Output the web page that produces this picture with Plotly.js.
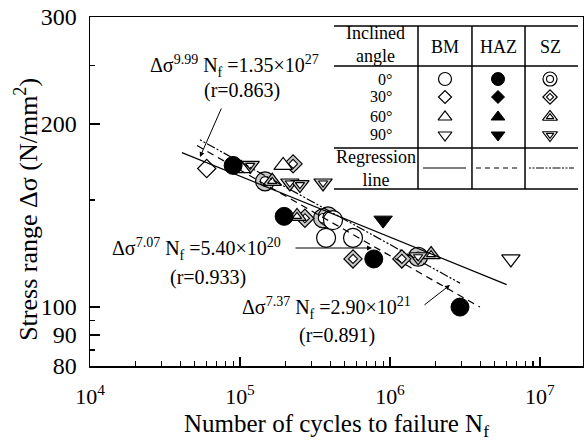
<!DOCTYPE html>
<html>
<head>
<meta charset="utf-8">
<script src="https://cdn.plot.ly/plotly-3.0.1.min.js"></script>
<style>html,body{margin:0;padding:0;background:#fff;}#chart{width:584px;height:441px;}</style>
</head>
<body>
<div id="chart"></div>
<script>
// ---- Data (N = cycles to failure, S = stress range N/mm^2) ----
// BM (open symbols)
const bm0N = [3.75e5, 4.17e5, 5.67e5];  const bm0S = [130, 139, 130];
const bm30N = [6.0e4];                  const bm30S = [169];
const bm60N = [1.02e5, 1.94e5];         const bm60S = [169, 171];
const bm90N = [6.4e6];                  const bm90S = [120];
// HAZ (filled symbols)
const haz0N = [9.0e4, 1.97e5, 7.8e5, 2.93e6]; const haz0S = [171, 141, 120, 100];
const haz90N = [9.0e5];                      const haz90S = [139];
// SZ (double symbols)
const sz0N = [1.47e5, 3.58e5, 3.86e5, 1.54e6];  const sz0S = [161, 140, 141, 121];
const sz30N = [2.26e5, 2.71e5, 5.67e5, 1.2e6];  const sz30S = [172, 140, 120, 120];
const sz60N = [1.64e5, 2.40e5, 1.88e6];         const sz60S = [161, 141, 122];
const sz90N = [1.17e5, 2.15e5, 2.51e5, 3.58e5, 1.54e6]; const sz90S = [171, 160, 159, 160, 121];
// Regression lines (end points)
const bmLineN = [4.1e4, 6.0e6];   const bmLineS = [179.5, 108.9];
const hazLineN = [5.17e4, 3.98e6]; const hazLineS = [184.4, 100.0];
const szLineN = [5.41e4, 2.93e6];  const szLineS = [188.4, 109.5];
// Axis ticks
const xTickVals = [1e4, 1e5, 1e6, 1e7];
const xTickText = ['10<sup>4</sup>', '10<sup>5</sup>', '10<sup>6</sup>', '10<sup>7</sup>'];
const yTickVals = [80, 90, 100, 200, 300];
const yTickText = ['80', '90', '100', '200', '300'];
const yMinorVals = [85, 95, 150, 250];
const xMinorVals = [];
for (const dec of [1e4, 1e5, 1e6, 1e7]) for (let d = 2; d <= 9; d++) if (d*dec < 1.9e7) xMinorVals.push(d*dec);

// Legend table categories
const angles = ['0°', '30°', '60°', '90°'];
const zones = ['BM', 'HAZ', 'SZ'];

const FONT = 'Liberation Serif, Times New Roman, serif';
const K = '#000';

function openTrace(x, y, sym, size, xa, ya) {
  return {x, y, type: 'scatter', mode: 'markers', xaxis: xa||'x', yaxis: ya||'y', hoverinfo: 'skip',
    marker: {symbol: sym, size, color: '#fff', line: {color: K, width: 1.2}}};
}
function fillTrace(x, y, sym, size, xa, ya) {
  return {x, y, type: 'scatter', mode: 'markers', xaxis: xa||'x', yaxis: ya||'y', hoverinfo: 'skip',
    marker: {symbol: sym, size, color: K, line: {color: K, width: 1}}};
}
function szTraces(x, y, sym, size, fill, xa, ya) {
  return [
    {x, y, type: 'scatter', mode: 'markers', xaxis: xa||'x', yaxis: ya||'y', hoverinfo: 'skip',
      marker: {symbol: sym, size, color: fill, line: {color: K, width: 1.2}}},
    {x, y, type: 'scatter', mode: 'markers', xaxis: xa||'x', yaxis: ya||'y', hoverinfo: 'skip',
      marker: {symbol: sym, size: size*0.5, color: '#fff', line: {color: K, width: 1.1}}}
  ];
}
function lineTrace(x, y, dash) {
  return {x, y, type: 'scatter', mode: 'lines', hoverinfo: 'skip', line: {color: K, width: 1.2, dash}};
}

const SZFILL = '#c8c8c8';
const traces = [
  ...szTraces(sz0N, sz0S, 'circle', 19, SZFILL),
  ...szTraces(sz30N, sz30S, 'diamond', 14, SZFILL),
  ...szTraces(sz60N, sz60S, 'triangle-up', 16, SZFILL),
  ...szTraces(sz90N, sz90S, 'triangle-down', 16, SZFILL),
  openTrace(bm0N, bm0S, 'circle', 19),
  openTrace(bm30N, bm30S, 'diamond', 14),
  openTrace(bm60N, bm60S, 'triangle-up', 16),
  openTrace(bm90N, bm90S, 'triangle-down', 16),
  fillTrace(haz0N, haz0S, 'circle', 18),
  fillTrace(haz90N, haz90S, 'triangle-down', 16),
  lineTrace(bmLineN, bmLineS, 'solid'),
  lineTrace(hazLineN, hazLineS, '7px,5px'),
  lineTrace(szLineN, szLineS, '2px,2px,2px,2px,9px,2px'),
];

// Legend table symbols on an overlay axis (0..1 across the plot area)
const colX = [0.7201, 0.8276, 0.9331];
const rowY = [0.8223, 0.7708, 0.7135, 0.6619];
const syms = ['circle', 'diamond', 'triangle-up', 'triangle-down'];
const lsz = [13, 10, 12, 12];
syms.forEach((s, i) => {
  traces.push(openTrace([colX[0]], [rowY[i]], s, lsz[i], 'x2', 'y2'));
  traces.push(fillTrace([colX[1]], [rowY[i]], s, lsz[i], 'x2', 'y2'));
  traces.push(...szTraces([colX[2]], [rowY[i]], s, lsz[i] + 1, '#fff', 'x2', 'y2'));
});

const shapes = [];
function pl(x0, y0, x1, y1, w, dash) {
  shapes.push({type: 'line', xref: 'paper', yref: 'paper', x0, y0, x1, y1, line: {color: K, width: w||1.5, dash: dash||'solid'}});
}
[0.9742, 0.8596, 0.6246, 0.5072].forEach(y => pl(0.4949, y, 0.9899, y, 1.5));
[0.6653, 0.7748, 0.8824].forEach(x => pl(x, 0.5072, x, 0.9742, 1.5));
pl(0.6755, 0.5673, 0.7627, 0.5673, 1.2);
pl(0.7830, 0.5673, 0.8722, 0.5673, 1.2, '5px,4px');
pl(0.8905, 0.5673, 0.9817, 0.5673, 1.2, '2px,1.5px,2px,1.5px,8px,1.5px');

const annotations = [];
function txt(text, x, y, size, xanchor) {
  annotations.push({text, x, y, xref: 'paper', yref: 'paper', showarrow: false,
    xanchor: xanchor||'center', yanchor: 'middle', font: {family: FONT, size: size||20, color: K}});
}
function arrow(x, y, ax, ay) {
  annotations.push({text: '', x, y, xref: 'paper', yref: 'paper', showarrow: true, ax, ay,
    arrowhead: 2, arrowsize: 1, arrowwidth: 1, arrowcolor: K, standoff: 0});
}
// y axis title (placed to match the reference, slightly below the axis centre)
annotations.push({text: 'Stress range Δσ (N/mm<sup>2</sup>)', textangle: -90, x: -0.128, y: 0.45,
  xref: 'paper', yref: 'paper', showarrow: false, xanchor: 'center', yanchor: 'middle',
  font: {family: FONT, size: 26, color: K}});
// legend text
txt('Inclined<br>angle', 0.5801, 0.9226, 18);
zones.forEach((z, i) => txt(z, colX[i], 0.914, 18));
angles.forEach((a, i) => txt(a, 0.6166, rowY[i], 16, 'right'));
txt('Regression<br>line', 0.5801, 0.5673, 18);
// equations
txt('Δσ<sup>9.99</sup> N<sub>f</sub> =1.35×10<sup>27</sup>', 0.2941, 0.8596, 20);
txt('(r=0.863)', 0.3083, 0.7908, 20);
txt('Δσ<sup>7.07</sup> N<sub>f</sub> =5.40×10<sup>20</sup>', 0.2170, 0.3352, 20);
txt('(r=0.933)', 0.2394, 0.2550, 20);
txt('Δσ<sup>7.37</sup> N<sub>f</sub> =2.90×10<sup>21</sup>', 0.4807, 0.1662, 20);
txt('(r=0.891)', 0.5010, 0.0888, 20);
arrow(0.2231, 0.5989, 22, -50);
arrow(0.5720, 0.3381, -78, 0);
arrow(0.7302, 0.2321, -27, 21);

const layout = {
  width: 584, height: 441,
  margin: {l: 90, r: 1, t: 17, b: 75},
  paper_bgcolor: '#fff', plot_bgcolor: '#fff',
  showlegend: false,
  font: {family: FONT, color: K},
  xaxis: {
    type: 'log', range: [4, 7.287], showgrid: false, zeroline: false,
    showline: true, mirror: true, linecolor: K, linewidth: 1.5,
    tickmode: 'array', tickvals: xTickVals, ticktext: xTickText,
    ticks: 'inside', ticklen: 9, tickwidth: 1.3, tickcolor: K,
    ticklabelstandoff: 10,
    tickfont: {family: FONT, size: 22, color: K},
    minor: {tickmode: 'array', tickvals: xMinorVals, ticks: 'inside', ticklen: 5, tickwidth: 1.2, tickcolor: K, showgrid: false},
    title: {text: 'Number of cycles to failure N<sub>f</sub>', font: {family: FONT, size: 25, color: K}, standoff: 14}
  },
  yaxis: {
    type: 'log', range: [Math.log10(80), Math.log10(300)], showgrid: false, zeroline: false,
    showline: true, mirror: true, linecolor: K, linewidth: 1.5,
    tickmode: 'array', tickvals: yTickVals, ticktext: yTickText,
    ticks: 'inside', ticklen: 10, tickwidth: 1.3, tickcolor: K,
    ticklabelstandoff: 7,
    tickfont: {family: FONT, size: 24, color: K},
    minor: {tickmode: 'array', tickvals: yMinorVals, ticks: 'inside', ticklen: 5, tickwidth: 1.2, tickcolor: K, showgrid: false}
  },
  xaxis2: {overlaying: 'x', anchor: 'y2', range: [0, 1], visible: false, fixedrange: true},
  yaxis2: {overlaying: 'y', anchor: 'x2', range: [0, 1], visible: false, fixedrange: true},
  shapes, annotations
};

Plotly.newPlot('chart', traces, layout, {staticPlot: true, displayModeBar: false});
</script>
</body>
</html>
